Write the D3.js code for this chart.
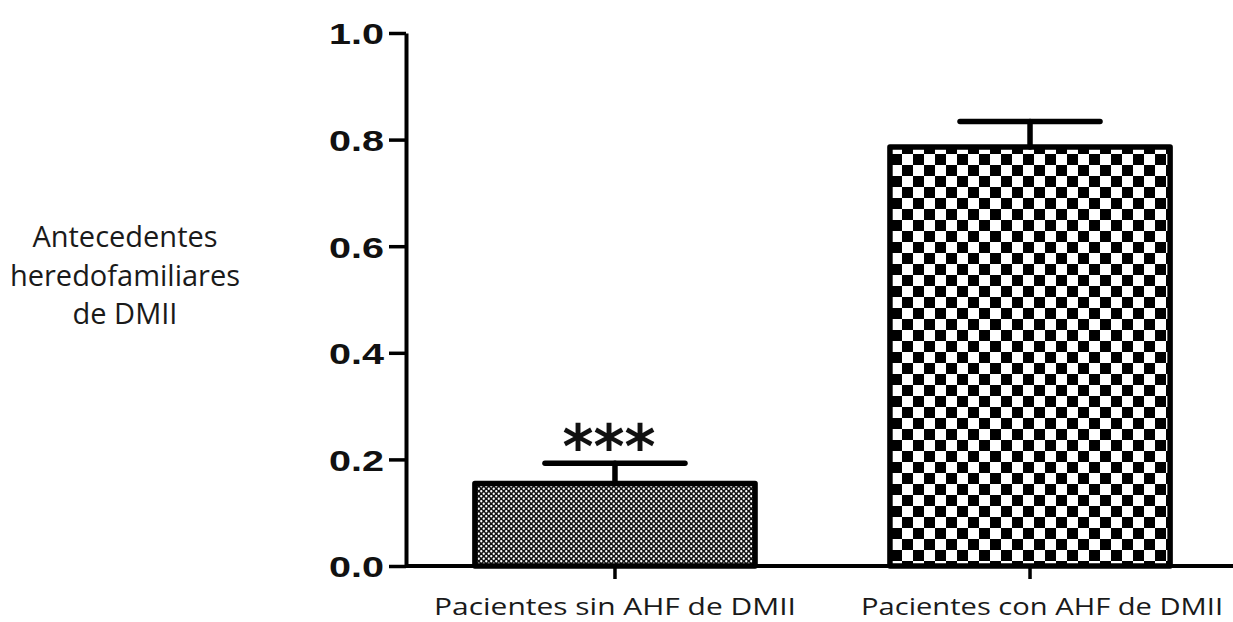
<!DOCTYPE html>
<html>
<head>
<meta charset="utf-8">
<script src="https://cdn.jsdelivr.net/npm/d3@7"></script>
<style>
  html, body { margin: 0; padding: 0; background: #fff; }
  svg { display: block; }
</style>
</head>
<body>
<div id="chart"></div>
<script>
const categories = ["Pacientes sin AHF de DMII", "Pacientes con AHF de DMII"];
const means = [0.155, 0.786];
const errors = [0.038, 0.048];
const marks = ["***", ""];
const yTicks = [0.0, 0.2, 0.4, 0.6, 0.8, 1.0];
const yTitleLines = ["Antecedentes", "heredofamiliares", "de DMII"];

const width = 1233;
const height = 622;

const svg = d3.select("#chart").append("svg")
  .attr("width", width)
  .attr("height", height);

// fill patterns: fine dots for the first bar, coarse checker for the second
const defs = svg.append("defs");

const dots = defs.append("pattern")
  .attr("id", "pat0")
  .attr("patternUnits", "userSpaceOnUse")
  .attr("width", 5).attr("height", 5);
dots.append("rect").attr("width", 5).attr("height", 5).attr("fill", "#111");
dots.append("circle").attr("cx", 1.25).attr("cy", 1.25).attr("r", 1.15).attr("fill", "#fff");
dots.append("circle").attr("cx", 3.75).attr("cy", 3.75).attr("r", 1.15).attr("fill", "#fff");

const checker = defs.append("pattern")
  .attr("id", "pat1")
  .attr("patternUnits", "userSpaceOnUse")
  .attr("width", 22).attr("height", 22);
checker.append("rect").attr("width", 22).attr("height", 22).attr("fill", "#000");
checker.append("rect").attr("x", 0).attr("y", 0).attr("width", 11).attr("height", 11).attr("fill", "#fff");
checker.append("rect").attr("x", 11).attr("y", 11).attr("width", 11).attr("height", 11).attr("fill", "#fff");

const x = d3.scaleBand()
  .domain(categories)
  .range([406, 1239])
  .paddingInner(0.325)
  .paddingOuter(0.166);

const y = d3.scaleLinear()
  .domain([0, 1])
  .range([566, 33]);

// bars
svg.append("g")
  .selectAll("rect")
  .data(categories)
  .join("rect")
  .attr("x", d => x(d))
  .attr("y", (d, i) => y(means[i]))
  .attr("width", x.bandwidth())
  .attr("height", (d, i) => y(0) - y(means[i]))
  .attr("fill", (d, i) => `url(#pat${i})`)
  .attr("stroke", "#000")
  .attr("stroke-width", 5.5)
  .attr("stroke-linejoin", "round");

// error bars (upper only)
const err = svg.append("g")
  .attr("stroke", "#000")
  .attr("stroke-width", 5.5)
  .attr("stroke-linecap", "round");

err.selectAll("line.stem")
  .data(categories)
  .join("line")
  .attr("class", "stem")
  .attr("x1", d => x(d) + x.bandwidth() / 2)
  .attr("x2", d => x(d) + x.bandwidth() / 2)
  .attr("y1", (d, i) => y(means[i]))
  .attr("y2", (d, i) => y(means[i] + errors[i]));

err.selectAll("line.cap")
  .data(categories)
  .join("line")
  .attr("class", "cap")
  .attr("x1", d => x(d) + x.bandwidth() / 2 - 70)
  .attr("x2", d => x(d) + x.bandwidth() / 2 + 70)
  .attr("y1", (d, i) => y(means[i] + errors[i]))
  .attr("y2", (d, i) => y(means[i] + errors[i]));

// significance stars
svg.append("g")
  .selectAll("text")
  .data(categories)
  .join("text")
  .attr("x", d => x(d) + x.bandwidth() / 2 - 6)
  .attr("y", (d, i) => y(means[i] + errors[i]) + 5)
  .attr("text-anchor", "middle")
  .attr("font-family", "'DejaVu Sans', sans-serif")
  .attr("font-weight", "bold")
  .attr("font-size", 60)
  .attr("textLength", 93)
  .attr("lengthAdjust", "spacingAndGlyphs")
  .attr("fill", "#111")
  .text((d, i) => marks[i]);

// y axis
const yAxis = svg.append("g")
  .attr("transform", "translate(406,0)")
  .call(d3.axisLeft(y).tickValues(yTicks).tickFormat(d3.format(".1f")).tickSize(17).tickSizeOuter(0).tickPadding(5));
yAxis.select(".domain").attr("stroke-width", 4);
yAxis.selectAll(".tick line").attr("stroke-width", 3.5);
yAxis.selectAll(".tick text")
  .attr("font-family", "'Liberation Sans', Arial, sans-serif")
  .attr("font-weight", "bold")
  .attr("font-size", 30)
  .attr("textLength", 55)
  .attr("lengthAdjust", "spacingAndGlyphs")
  .attr("dy", "0.36em")
  .attr("fill", "#111");

// x axis
const xAxis = svg.append("g")
  .attr("transform", "translate(0,566)")
  .call(d3.axisBottom(x).tickSize(13).tickSizeOuter(0).tickFormat(""));
xAxis.select(".domain").attr("d", "M406,0H1233").attr("stroke-width", 4);
xAxis.selectAll(".tick line").attr("stroke-width", 3.5);

// category labels
svg.append("g")
  .selectAll("text")
  .data(categories)
  .join("text")
  .attr("x", (d, i) => x(d) + x.bandwidth() / 2 + (i === 1 ? 12 : 0))
  .attr("y", 615)
  .attr("text-anchor", "middle")
  .attr("font-family", "'Open Sans', sans-serif")
  .attr("font-size", 24)
  .attr("textLength", 362)
  .attr("lengthAdjust", "spacingAndGlyphs")
  .attr("fill", "#1a1a1a")
  .text(d => d);

// y title
svg.append("text")
  .attr("font-family", "'Open Sans', sans-serif")
  .attr("font-size", 29)
  .attr("fill", "#1a1a1a")
  .attr("text-anchor", "middle")
  .selectAll("tspan")
  .data(yTitleLines)
  .join("tspan")
  .attr("x", 125)
  .attr("y", (d, i) => 247 + i * 38.5)
  .text(d => d);
</script>
</body>
</html>
